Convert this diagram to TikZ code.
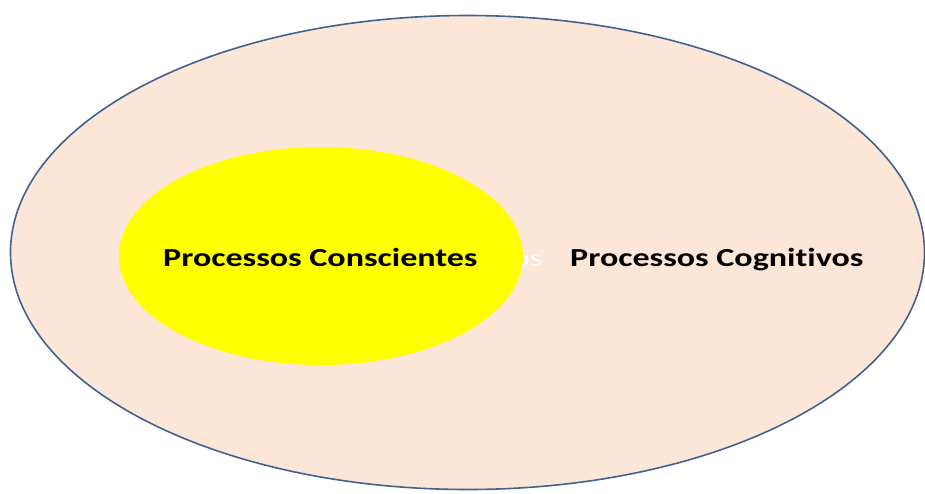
\documentclass[tikz,border=0pt]{standalone}
\usepackage{fontspec}
\setmainfont{Carlito}[RawFeature=-liga]
\usetikzlibrary{shapes.geometric}
\definecolor{peach}{HTML}{FCE6D7}
\definecolor{rim}{HTML}{41628E}
\definecolor{yel}{HTML}{FFFF00}
\tikzset{
  lbl/.style={font=\bfseries\fontsize{26}{30}\selectfont, text=black, inner sep=0pt},
  ghost/.style={font=\fontsize{25}{28}\selectfont, text=white, inner sep=0pt},
}
\newcommand{\wide}[1]{\scalebox{1.31}[1]{#1}}
\begin{document}
\begin{tikzpicture}[x=1pt,y=-1pt]
\useasboundingbox (0,0) rectangle (925,493);
\fill[white] (0,0) rectangle (925,493);
\node[ellipse, draw=rim, line width=1.6pt, fill=peach, minimum width=914, minimum height=474, inner sep=0pt] (outer) at (467.5,252.5) {};
\node[ghost, anchor=base east] (hid) at (543,266) {\wide{os}};
\node[ellipse, fill=yel, minimum width=404, minimum height=218, inner sep=0pt] (inner) at (321,256) {};
\node[lbl, anchor=base west] (cons) at (163,266) {\wide{Processos Conscientes}};
\node[lbl, anchor=base west] (cog) at (570,266) {\wide{Processos Cognitivos}};
\end{tikzpicture}
\end{document}
